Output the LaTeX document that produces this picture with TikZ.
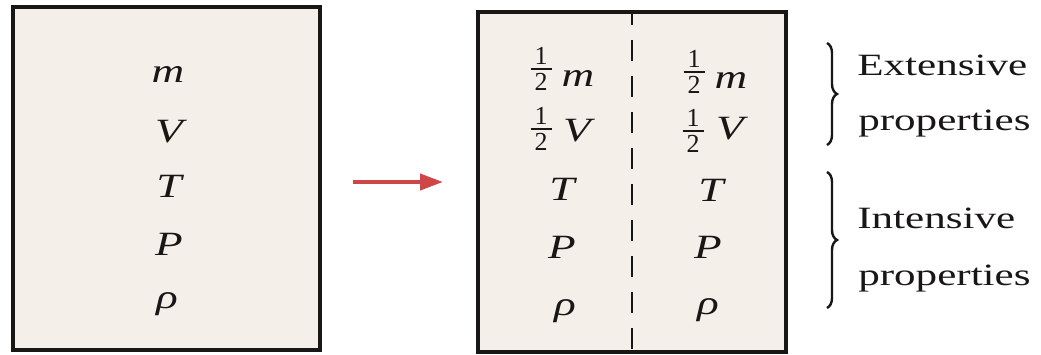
\documentclass[tikz,border=0pt]{standalone}
\usepackage{fontspec}
\setmainfont{Liberation Serif}
\usetikzlibrary{arrows.meta,decorations.pathreplacing}
\definecolor{paper}{RGB}{244,240,233}
\definecolor{ink}{RGB}{25,22,22}
\definecolor{arrowred}{RGB}{205,70,72}
\newcommand\halfof{\vbox{\hbox to 21pt{\hss 1\hss}\kern 3pt\hrule height 2pt\kern 3pt\hbox to 21pt{\hss 2\hss}}}
\tikzset{
  box/.style={draw=ink, line width=3.5pt, fill=paper, inner sep=0pt},
  divider/.style={draw=ink, line width=2.8pt, dash pattern=on 21pt off 15pt, dash phase=6pt},
  flow/.style={draw=arrowred, line width=4pt, -{Triangle[length=23pt,width=16pt]}},
  sym/.style={font=\fontsize{34}{40}\selectfont\itshape, text=ink, xscale=1.33, transform shape, anchor=base, inner sep=0pt},
  hf/.style={font=\fontsize{26}{26}\selectfont, text=ink, anchor=center, inner sep=0pt},
  bracesty/.style={draw=ink, line width=2.4pt, decorate, decoration={brace, amplitude=10pt}},
  lab/.style={font=\fontsize{31}{36}\selectfont, text=ink, xscale=1.39, transform shape, anchor=base west, inner sep=0pt}
}
\begin{document}
\begin{tikzpicture}[x=1pt,y=-1pt]
\useasboundingbox (0,0) rectangle (1041,354);
% boxes
\node[box, minimum width=307pt, minimum height=343pt] (L) at (166.5,178.5) {};
\node[box, minimum width=308pt, minimum height=340pt] (R) at (632,182) {};
\draw[divider] (R.north) -- (R.south);
% left box contents
\node[sym] (lm) at (168,82) {m};
\node[sym] (lV) at (169,142) {V};
\node[sym] (lT) at (169,197) {T};
\node[sym] (lP) at (169,255) {P};
\node[sym] (lr) at (167,308) {ρ};
% arrow
\coordinate (a0) at (353,182);
\coordinate (a1) at (443,182);
\draw[flow] (a0) -- (a1);
% right box, first column
\node[hf] (h1m) at (541,69) {\halfof};
\node[sym] (r1m) at (578,86) {m};
\node[hf] (h1V) at (541,129) {\halfof};
\node[sym] (r1V) at (577,141) {V};
\node[sym] (r1T) at (562,200) {T};
\node[sym] (r1P) at (562,258) {P};
\node[sym] (r1r) at (565,315) {ρ};
% right box, second column
\node[hf] (h2m) at (694,72) {\halfof};
\node[sym] (r2m) at (731,88) {m};
\node[hf] (h2V) at (693,131) {\halfof};
\node[sym] (r2V) at (730,139) {V};
\node[sym] (r2T) at (711,201) {T};
\node[sym] (r2P) at (708,258) {P};
\node[sym] (r2r) at (708,314) {ρ};
% braces
\coordinate (b1t) at (827,43);
\coordinate (b1b) at (827,145);
\coordinate (b2t) at (827,172);
\coordinate (b2b) at (827,308);
\draw[bracesty] (b1t) -- (b1b);
\draw[bracesty] (b2t) -- (b2b);
% labels
\node[lab] (e1) at (857,75) {Extensive};
\node[lab] (e2) at (858,130) {properties};
\node[lab] (i1) at (857,228) {Intensive};
\node[lab] (i2) at (858,285) {properties};
\end{tikzpicture}
\end{document}
